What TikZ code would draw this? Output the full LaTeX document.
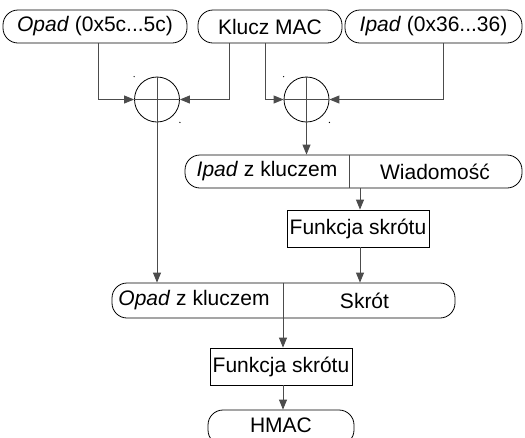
\documentclass[tikz,border=0pt]{standalone}
\usepackage{fontspec}
\setmainfont{Liberation Sans}
\usetikzlibrary{arrows.meta}
\begin{document}
\begin{tikzpicture}[x=1pt,y=-1pt,
  font=\fontsize{21}{24}\selectfont,
  term/.style={draw=black, line width=0.8pt, rounded corners=15pt,
               minimum height=33pt, inner sep=0pt},
  proc/.style={draw=black, line width=0.8pt, minimum height=37pt, inner sep=2pt},
  wire/.style={draw=black!70, line width=0.9pt},
  flow/.style={wire, -{Triangle[length=10pt,width=8pt]}},
  xorc/.style={circle, draw=black, line width=0.8pt, minimum size=45pt, inner sep=0pt},
  lbl/.style={inner sep=0pt},
]
\clip (0,0) rectangle (525,437);
\useasboundingbox (0,0) rectangle (525,437);

% inputs
\node[term, minimum width=184pt] (opad) at (95,26.5) {\textit{Opad} (0x5c...5c)};
\node[term, minimum width=144pt] (key)  at (270,26.5) {Klucz MAC};
\node[term, minimum width=177pt] (ipad) at (433.5,26.5) {\textit{Ipad} (0x36...36)};

% XOR gates
\node[xorc] (x1) at (157,99.5) {};
\node[xorc] (x2) at (306.5,99.5) {};
\draw[wire] (x1.north) -- (x1.south) (x1.west) -- (x1.east);
\draw[wire] (x2.north) -- (x2.south) (x2.west) -- (x2.east);
\fill (x1.west |- x1.north) circle (0.7) (x1.east |- x1.south) circle (0.7);
\fill (x2.west |- x2.north) circle (0.7) (x2.east |- x2.south) circle (0.7);

\draw[flow] ([xshift=3pt]opad.south) |- (x1.west);
\draw[flow] ([xshift=-41pt]key.south) |- (x1.east);
\draw[flow] ([xshift=-5pt]key.south) |- (x2.west);
\draw[flow] ([xshift=9.5pt]ipad.south) |- (x2.east);

% inner hash input
\node[term, minimum width=337pt] (inner) at (353.5,171.5) {};
\draw[wire] (inner.north -| 349,0) -- (inner.south -| 349,0);
\node[lbl] (innerkey) at (267,171.5) {\textit{Ipad} z kluczem};
\node[lbl] (msg) at (435,171.5) {Wiadomość};
\draw[flow] (x2.south) -- (x2.south |- inner.north);

\node[proc, minimum width=142pt] (h1) at (358,228.5) {Funkcja skrótu};
\draw[flow] (inner.south -| 360,0) -- (h1.north -| 360,0);

% outer hash input
\node[term, minimum width=343pt, minimum height=35pt] (outer) at (283.5,300.5) {};
\draw[wire] (outer.north -| 283,0) -- (outer.south -| 283,0);
\node[lbl] (outerkey) at (194,300.5) {\textit{Opad} z kluczem};
\node[lbl] (digest) at (364.5,300.5) {Skrót};
\draw[flow] (h1.south -| 360,0) -- (outer.north -| 360,0);
\draw[flow] (x1.south) -- (x1.south |- outer.north);

\node[proc, minimum width=142pt] (h2) at (281,366.5) {Funkcja skrótu};
\draw[flow] (outer.south -| 283,0) -- (h2.north -| 283,0);

% result
\node[term, minimum width=146pt, minimum height=35pt] (hmac) at (281,427.5) {};
\node[lbl] (hmactext) at (281,425) {HMAC};
\draw[flow] (h2.south -| 283,0) -- (hmac.north -| 283,0);
\end{tikzpicture}
\end{document}
